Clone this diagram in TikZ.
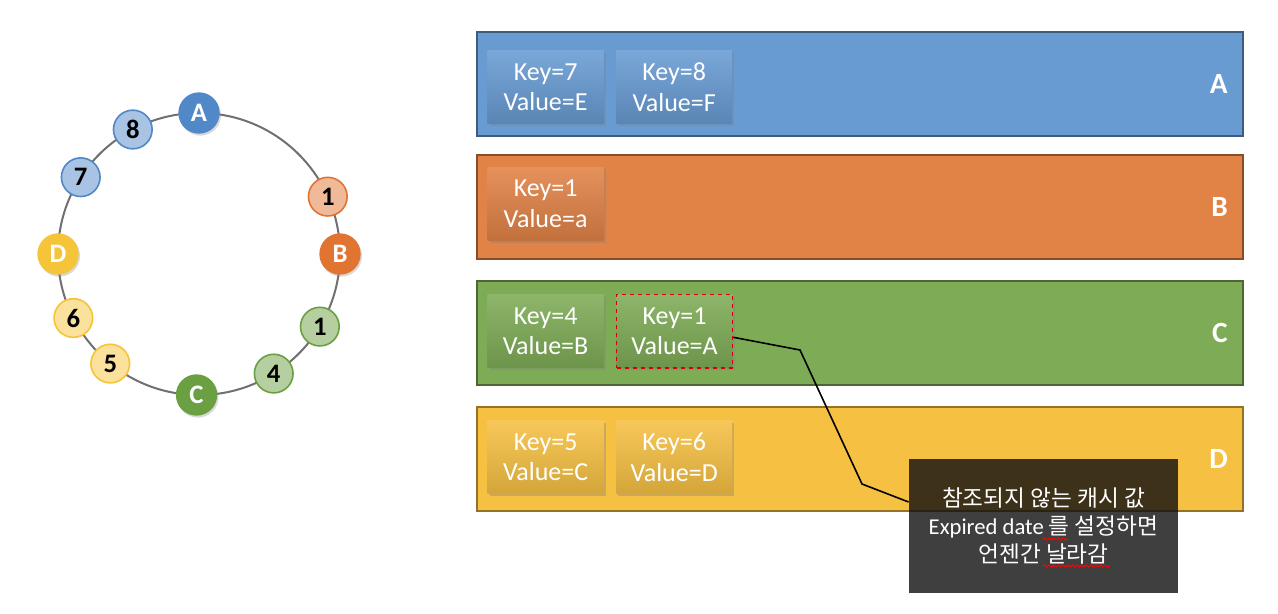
\documentclass[tikz,border=0pt]{standalone}
\usepackage{fontspec}
\setmainfont{Carlito}
\newfontfamily\krfont{Noto Sans CJK KR}
\definecolor{bandA}{RGB}{103,155,210}
\definecolor{bandB}{RGB}{225,130,70}
\definecolor{bandC}{RGB}{126,172,86}
\definecolor{bandD}{RGB}{246,192,66}
\definecolor{dotA}{RGB}{80,136,200}
\definecolor{dotB}{RGB}{226,116,50}
\definecolor{dotC}{RGB}{106,160,66}
\definecolor{dotD}{RGB}{245,196,56}
\definecolor{ringgray}{RGB}{112,112,112}
\usetikzlibrary{positioning, shadows, decorations.pathmorphing}
\tikzset{
	band/.style={draw=#1!60!black, line width=1.5pt, fill=#1, minimum width=574.5pt, minimum height=78pt, inner sep=0pt},
	kvbox/.style={top color=#1!88!white, bottom color=#1!86!black, draw=none, minimum width=87pt, minimum height=55pt, inner sep=0pt, align=center, text=white, font=\fontsize{19.5}{23}\selectfont, drop shadow={opacity=0.35, shadow xshift=1.5pt, shadow yshift=-1.5pt}},
	bandlabel/.style={text=white, font=\fontsize{22}{24}\selectfont\bfseries, inner sep=0pt},
	hub/.style={circle, fill=#1, minimum size=31pt, inner sep=0pt, text=white, font=\fontsize{20}{22}\selectfont\bfseries, drop shadow={opacity=0.3, shadow xshift=1pt, shadow yshift=-1.5pt}},
	key/.style={circle, fill=#1!50!white, draw=#1, line width=1.2pt, minimum size=29pt, inner sep=0pt, text=black, font=\fontsize{20}{22}\selectfont\bfseries},
	squiggle/.style={red, line width=0.8pt, decorate, decoration={snake, amplitude=0.8pt, segment length=3.5pt}}
}

\begin{document}
\begin{tikzpicture}[x=0.75pt, y=-0.75pt]
	\useasboundingbox (0,0) rectangle (1278,614);
	% ring
	\coordinate (ringc) at (199,254);
	\draw[ringgray, line width=1.5pt] (ringc) circle[radius=105.75pt];
	\node[hub=dotA] (hubA) at ([shift={(90:105.75pt)}]ringc) {A};
	\node[hub=dotB] (hubB) at ([shift={(0:105.75pt)}]ringc) {B};
	\node[hub=dotC] (hubC) at ([shift={(269:105.75pt)}]ringc) {C};
	\node[hub=dotD] (hubD) at ([shift={(180:105.75pt)}]ringc) {D};
	\node[key=dotA] (k8) at ([shift={(118:105.75pt)}]ringc) {8};
	\node[key=dotA] (k7) at ([shift={(147:105.75pt)}]ringc) {7};
	\node[key=dotB] (k1b) at ([shift={(24:105.75pt)}]ringc) {1};
	\node[key=dotC] (k1c) at ([shift={(329:105.75pt)}]ringc) {1};
	\node[key=dotC] (k4) at ([shift={(302:105.75pt)}]ringc) {4};
	\node[key=dotD] (k6) at ([shift={(207:105.75pt)}]ringc) {6};
	\node[key=dotD] (k5) at ([shift={(231:105.75pt)}]ringc) {5};
	% cache bands
	\node[band=bandA] (bandA) at (860,84) {};
	\node[band=bandB, below=12.5pt of bandA] (bandB) {};
	\node[band=bandC, below=15pt of bandB] (bandC) {};
	\node[band=bandD, below=15pt of bandC] (bandD) {};
	\node[bandlabel, left=12pt of bandA.east] (labA) {A};
	\node[bandlabel, left=12pt of bandB.east] (labB) {B};
	\node[bandlabel, left=12pt of bandC.east] (labC) {C};
	\node[bandlabel, left=12pt of bandD.east] (labD) {D};
	\node[kvbox=bandA, below right=14.5pt and 8.5pt of bandA.north west] (kvE) {Key=7\\Value=E};
	\node[kvbox=bandA, right=9pt of kvE] (kvF) {Key=8\\Value=F};
	\node[kvbox=bandB, below right=10pt and 8.5pt of bandB.north west] (kva) {Key=1\\Value=a};
	\node[kvbox=bandC, below right=11pt and 8.5pt of bandC.north west] (kvB) {Key=4\\Value=B};
	\node[kvbox=bandC, right=9pt of kvB, draw=red!85!black, dashed, line width=1pt] (kvA) {Key=1\\Value=A};
	\node[kvbox=bandD, below right=11pt and 8.5pt of bandD.north west] (kvC) {Key=5\\Value=C};
	\node[kvbox=bandD, right=9pt of kvC] (kvD) {Key=6\\Value=D};
	% note
	\node[fill=black!94, fill opacity=0.8, text opacity=1, text=white, minimum width=202pt, minimum height=100.5pt, inner sep=0pt, align=center, font=\fontsize{17}{21}\selectfont] (note) at (1043.5,526) {{\krfont 참조되지 않는 캐시 값}\\Expired date {\krfont 를 설정하면}\\{\krfont 언젠간 날라감}};
	\coordinate (bend1) at (800,350);
	\coordinate (bend2) at (862,484);
	\draw[black, line width=1.2pt] ([yshift=-4.5pt]kvA.east) -- (bend1) -- (bend2) -- ([yshift=18pt]note.west);
	\draw[squiggle] (1043,539) -- (1068,539);
	\draw[squiggle] (1043,566) -- (1110,566);
\end{tikzpicture}
\end{document}
